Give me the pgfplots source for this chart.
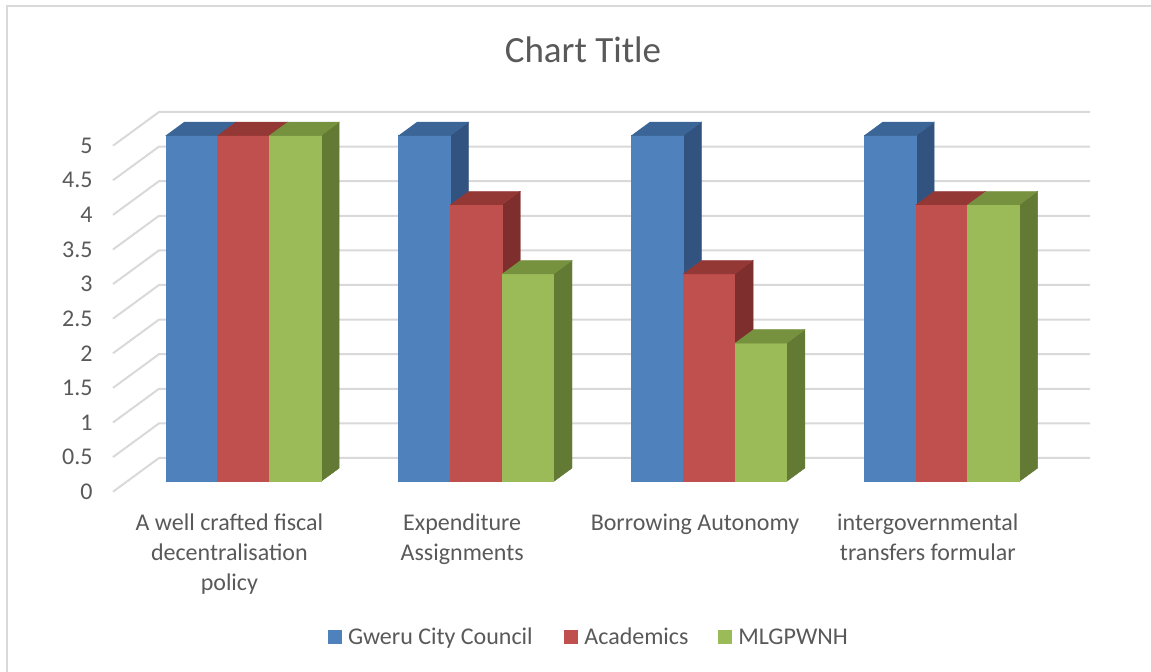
\documentclass[border=0pt]{standalone}
\usepackage{pgfplots}
\pgfplotsset{compat=1.18}
\usepackage{pgfplotstable}
\usepackage{fontspec}
\setmainfont{Carlito}
\definecolor{txt}{HTML}{595959}
\definecolor{gridc}{HTML}{D9D9D9}
\definecolor{bF}{HTML}{4F81BD}
\definecolor{bS}{HTML}{32537F}
\definecolor{bT}{HTML}{3B6596}
\definecolor{rF}{HTML}{C0504D}
\definecolor{rS}{HTML}{7E2F2D}
\definecolor{rT}{HTML}{943836}
\definecolor{gF}{HTML}{9BBB59}
\definecolor{gS}{HTML}{637A34}
\definecolor{gT}{HTML}{77923F}

\pgfplotstableread{
idx gweru academics mlg
0 5 5 5
1 5 4 3
2 5 3 2
3 5 4 4
}\datatable

% #1 left x of bar, #2 value, #3 front, #4 side, #5 top colour
\newcommand{\drawbar}[5]{%
  \pgfmathsetmacro\barxa{#1}%
  \pgfmathsetmacro\barxb{#1+0.222222}%
  \edef\bartmp{%
    \noexpand\addplot3[forget plot, draw=#4, line width=0.2pt, fill=#4] coordinates {(\barxb,0.3,0) (\barxb,0.7,0) (\barxb,0.7,#2) (\barxb,0.3,#2)};
    \noexpand\addplot3[forget plot, draw=#3, line width=0.2pt, fill=#3] coordinates {(\barxa,0.3,0) (\barxb,0.3,0) (\barxb,0.3,#2) (\barxa,0.3,#2)};
    \noexpand\addplot3[forget plot, draw=#5, line width=0.2pt, fill=#5] coordinates {(\barxa,0.3,#2) (\barxb,0.3,#2) (\barxb,0.7,#2) (\barxa,0.7,#2)};
  }\bartmp}

\begin{document}
\begin{tikzpicture}[x=0.5pt,y=0.5pt]
\path[use as bounding box] (-113,-180.3) rectangle (1038,491.7);
\draw[gridc, line width=1pt] (-106,-185) -- (-106,485.7) -- (1045,485.7);
\node[txt, font=\fontsize{18.5}{22}\selectfont] at (470,441.7) {Chart Title};

\begin{axis}[
  at={(0,0)}, anchor=origin,
  disabledatascaling,
  x={(116.4pt,0pt)}, y={(23pt,16.85pt)}, z={(0pt,34.6pt)},
  xmin=0, xmax=4, ymin=0, ymax=1, zmin=0, zmax=5,
  hide axis, clip=false,
]
\pgfplotsinvokeforeach{0,0.5,1,1.5,2,2.5,3,3.5,4,4.5,5}{
  \addplot3[forget plot, draw=gridc, line width=1pt] coordinates {(0,0,#1) (0,1,#1) (4,1,#1)};
  \node[anchor=east, inner sep=0pt, txt, font=\fontsize{12}{15}\selectfont] at ([xshift=-10pt]axis cs:0,0,#1) {#1};
}
\pgfplotsforeachungrouped \r in {0,1,2,3}{%
  \pgfmathsetmacro\xl{\r+0.5-0.333333}%
  \pgfplotstablegetelem{\r}{gweru}\of\datatable \let\va\pgfplotsretval
  \drawbar{\xl}{\va}{bF}{bS}{bT}%
  \pgfmathsetmacro\xl{\r+0.5-0.111111}%
  \pgfplotstablegetelem{\r}{academics}\of\datatable \let\va\pgfplotsretval
  \drawbar{\xl}{\va}{rF}{rS}{rT}%
  \pgfmathsetmacro\xl{\r+0.5+0.111111}%
  \pgfplotstablegetelem{\r}{mlg}\of\datatable \let\va\pgfplotsretval
  \drawbar{\xl}{\va}{gF}{gS}{gT}%
}
\node[anchor=north, align=center, inner sep=0pt, txt, font=\fontsize{12}{15}\selectfont] at ([yshift=-10.7pt]axis cs:0.5,0,0) {A well crafted fiscal\\decentralisation\\policy};
\node[anchor=north, align=center, inner sep=0pt, txt, font=\fontsize{12}{15}\selectfont] at ([yshift=-10.7pt]axis cs:1.5,0,0) {Expenditure\\Assignments};
\node[anchor=north, align=center, inner sep=0pt, txt, font=\fontsize{12}{15}\selectfont] at ([yshift=-10.7pt]axis cs:2.5,0,0) {Borrowing Autonomy};
\node[anchor=north, align=center, inner sep=0pt, txt, font=\fontsize{12}{15}\selectfont] at ([yshift=-10.7pt]axis cs:3.5,0,0) {intergovernmental\\transfers formular};
\end{axis}

\fill[bF] (215,-152) rectangle (228.7,-138.3);
\node[anchor=base west, inner sep=0pt, txt, font=\fontsize{12}{15}\selectfont] at (234.7,-153) {Gweru City Council};
\fill[rF] (451,-152) rectangle (464.7,-138.3);
\node[anchor=base west, inner sep=0pt, txt, font=\fontsize{12}{15}\selectfont] at (471,-153) {Academics};
\fill[gF] (605,-152) rectangle (618.7,-138.3);
\node[anchor=base west, inner sep=0pt, txt, font=\fontsize{12}{15}\selectfont] at (625,-153) {MLGPWNH};
\end{tikzpicture}
\end{document}
